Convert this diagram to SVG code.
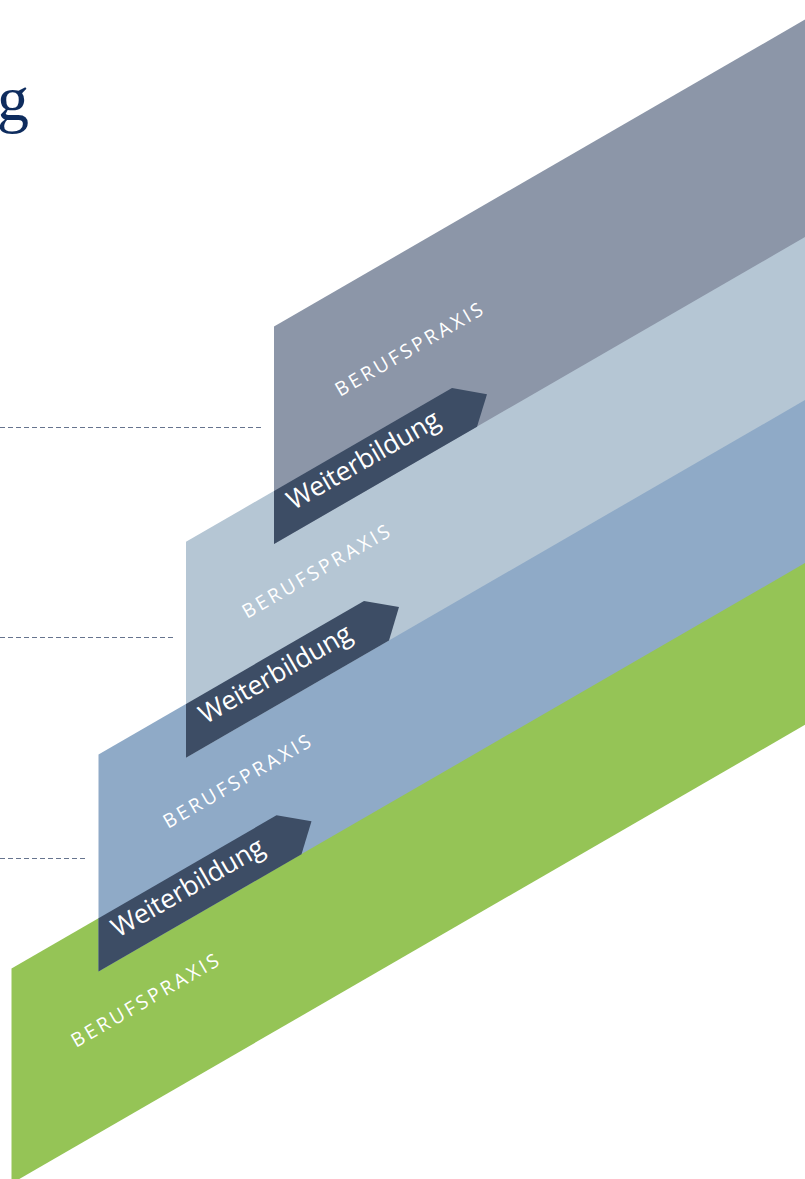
<svg xmlns="http://www.w3.org/2000/svg" width="805" height="1179" viewBox="0 0 805 1179">
  <style>
    .band-gray { fill: #8c96a8; }
    .band-light { fill: #b5c6d4; }
    .band-mid { fill: #8faac7; }
    .band-green { fill: #95c456; }
    .arrow { fill: #3d4d65; }
    .praxis { font-family: "Open Sans", "Noto Sans", sans-serif; font-size: 19.5px; letter-spacing: 3px; fill: #ffffff; }
    .wb { font-family: "Open Sans", "Noto Sans", sans-serif; font-size: 26.5px; letter-spacing: -0.2px; fill: #ffffff; }
    .dash { stroke: #66748e; stroke-width: 1; stroke-dasharray: 5 3; fill: none; }
    .title { font-family: "Liberation Serif", "Times New Roman", serif; font-size: 64px; fill: #0e2c5e; }
  </style>
  <text class="title" x="-3" y="120">g</text>
  <g id="connectors">
    <line class="dash" x1="0" y1="427.5" x2="261" y2="427.5"/>
    <line class="dash" x1="0" y1="637.5" x2="173" y2="637.5"/>
    <line class="dash" x1="0" y1="858.5" x2="85" y2="858.5"/>
  </g>
  <g id="band-green">
    <polygon class="band-green" points="11.5,968.5 812,505.8 812,720.8 11.5,1183.5"/>
    <text class="praxis" transform="translate(76,1048) rotate(-30)">BERUFSPRAXIS</text>
  </g>
  <g id="band-mid">
    <polygon class="band-mid" points="98.5,754.5 812,342.1 812,559 98.5,971.5"/>
    <text class="praxis" transform="translate(168,829) rotate(-30)">BERUFSPRAXIS</text>
  </g>
  <g id="band-light">
    <polygon class="band-light" points="186,541.8 812,180 812,396 186,757.8"/>
    <text class="praxis" transform="translate(247,619) rotate(-30)">BERUFSPRAXIS</text>
  </g>
  <g id="band-gray">
    <polygon class="band-gray" points="274,326.5 812,15.5 812,233 274,544"/>
    <text class="praxis" transform="translate(340,397) rotate(-30)">BERUFSPRAXIS</text>
  </g>
  <g id="weiterbildung-3">
    <polygon class="arrow" points="98.5,918.2 276.5,815.3 311.5,821.3 301.5,854.2 98.5,971.5"/>
    <text class="wb" transform="translate(118,938) rotate(-30)">Weiterbildung</text>
  </g>
  <g id="weiterbildung-2">
    <polygon class="arrow" points="186,703.9 364,601 399,607 389,640.5 186,757.8"/>
    <text class="wb" transform="translate(205.5,724.5) rotate(-30)">Weiterbildung</text>
  </g>
  <g id="weiterbildung-1">
    <polygon class="arrow" points="274,490.9 452,388 487,394.3 477,426.7 274,544"/>
    <text class="wb" transform="translate(293.5,510.5) rotate(-30)">Weiterbildung</text>
  </g>
</svg>
